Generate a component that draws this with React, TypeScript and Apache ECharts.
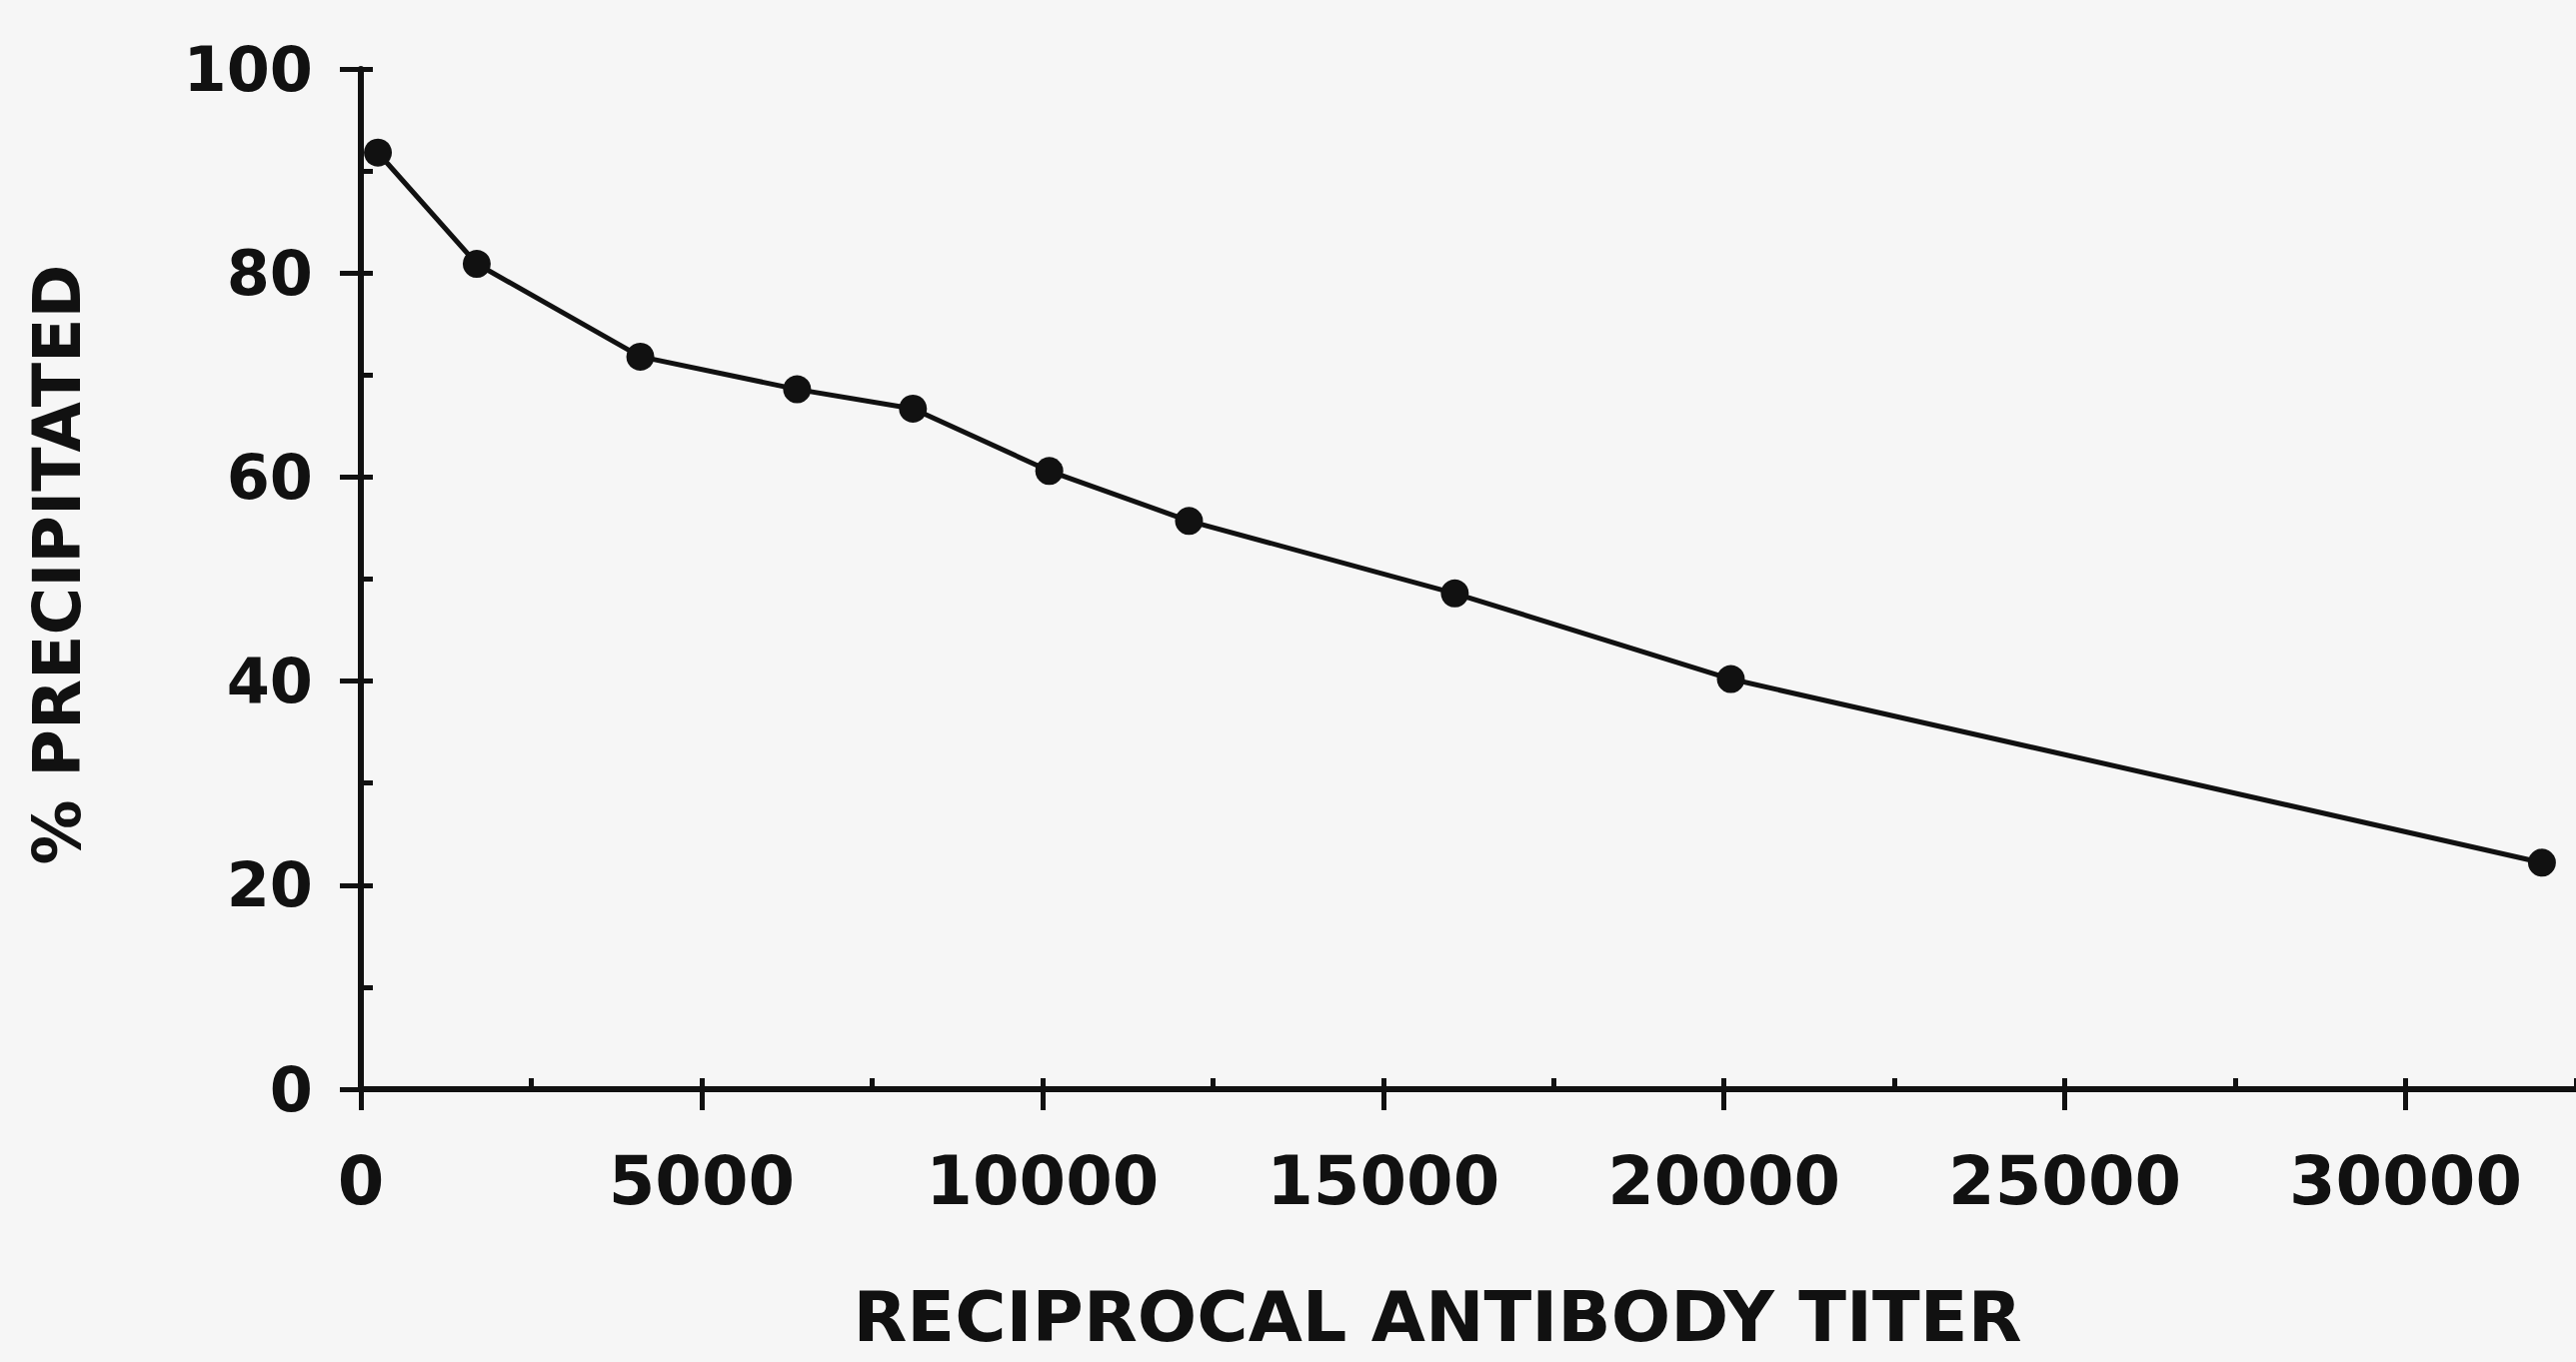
import React, { useEffect, useRef } from "react";
import * as echarts from "echarts";

// Reciprocal antibody titer (x) vs % precipitated (y)
const titers = [250, 1700, 4100, 6400, 8100, 10100, 12150, 16050, 20100, 32000];
const precipitated = [91.8, 80.9, 71.8, 68.6, 66.7, 60.6, 55.7, 48.6, 40.2, 22.2];

const xTickLabels = ["0", "5000", "10000", "15000", "20000", "25000", "30000"];
const yTickLabels = ["0", "20", "40", "60", "80", "100"];

const yTitle = "% PRECIPITATED";
const xTitle = "RECIPROCAL ANTIBODY TITER";

export default function App() {
  const ref = useRef<HTMLDivElement>(null);

  useEffect(() => {
    document.body.style.margin = "0";
    const chart = echarts.init(ref.current as HTMLDivElement, null, { renderer: "svg" });
    const ink = "#111111";
    const font = "DejaVu Sans";

    chart.setOption({
      animation: false,
      backgroundColor: "#f6f6f6",
      grid: { left: 361, right: 0, top: 69, bottom: 273, containLabel: false },
      xAxis: [
        {
          type: "value",
          min: 0,
          max: 32500,
          interval: 5000,
          axisLine: { show: true, lineStyle: { color: ink, width: 6 } },
          axisTick: { show: true, length: 21, lineStyle: { color: ink, width: 5 } },
          splitLine: { show: false },
          axisLabel: {
            margin: 58,
            fontSize: 67,
            fontWeight: "bold",
            fontFamily: font,
            color: ink,
            showMaxLabel: false,
            formatter: (v: number) => {
              const i = xTickLabels.indexOf(String(v));
              return i >= 0 ? xTickLabels[i] : "";
            },
          },
        },
        {
          type: "value",
          min: 0,
          max: 32500,
          interval: 2500,
          axisLine: { show: false },
          axisTick: { show: true, length: 11, lineStyle: { color: ink, width: 5 } },
          axisLabel: { show: false },
          splitLine: { show: false },
        },
      ],
      yAxis: [
        {
          type: "value",
          min: 0,
          max: 100,
          interval: 20,
          axisLine: { show: true, lineStyle: { color: ink, width: 6 } },
          axisTick: { show: true, length: 21, lineStyle: { color: ink, width: 5 } },
          splitLine: { show: false },
          axisLabel: {
            margin: 48,
            fontSize: 62,
            fontWeight: "bold",
            fontFamily: font,
            color: ink,
            formatter: (v: number) => {
              const i = yTickLabels.indexOf(String(v));
              return i >= 0 ? yTickLabels[i] : "";
            },
          },
        },
        {
          type: "value",
          min: 0,
          max: 100,
          interval: 10,
          axisLine: { show: false },
          axisTick: { show: true, length: 12, lineStyle: { color: ink, width: 5 } },
          axisLabel: { show: false },
          splitLine: { show: false },
        },
      ],
      series: [
        {
          type: "line",
          xAxisIndex: 0,
          yAxisIndex: 0,
          data: titers.map((t, i) => [t, precipitated[i]]),
          symbol: "circle",
          symbolSize: 28,
          lineStyle: { color: ink, width: 5 },
          itemStyle: { color: ink },
        },
      ],
      graphic: [
        {
          type: "text",
          x: 57,
          y: 565,
          rotation: Math.PI / 2,
          style: {
            text: yTitle,
            fontSize: 65,
            fontWeight: "bold",
            fontFamily: font,
            fill: ink,
            align: "center",
            verticalAlign: "middle",
          },
        },
        {
          type: "text",
          x: 1438,
          y: 1318,
          style: {
            text: xTitle,
            fontSize: 70,
            fontWeight: "bold",
            fontFamily: font,
            fill: ink,
            align: "center",
            verticalAlign: "middle",
          },
        },
      ],
    });

    return () => chart.dispose();
  }, []);

  return (
    <div
      ref={ref}
      style={{ position: "fixed", left: 0, top: 0, width: 2577, height: 1363 }}
    />
  );
}
